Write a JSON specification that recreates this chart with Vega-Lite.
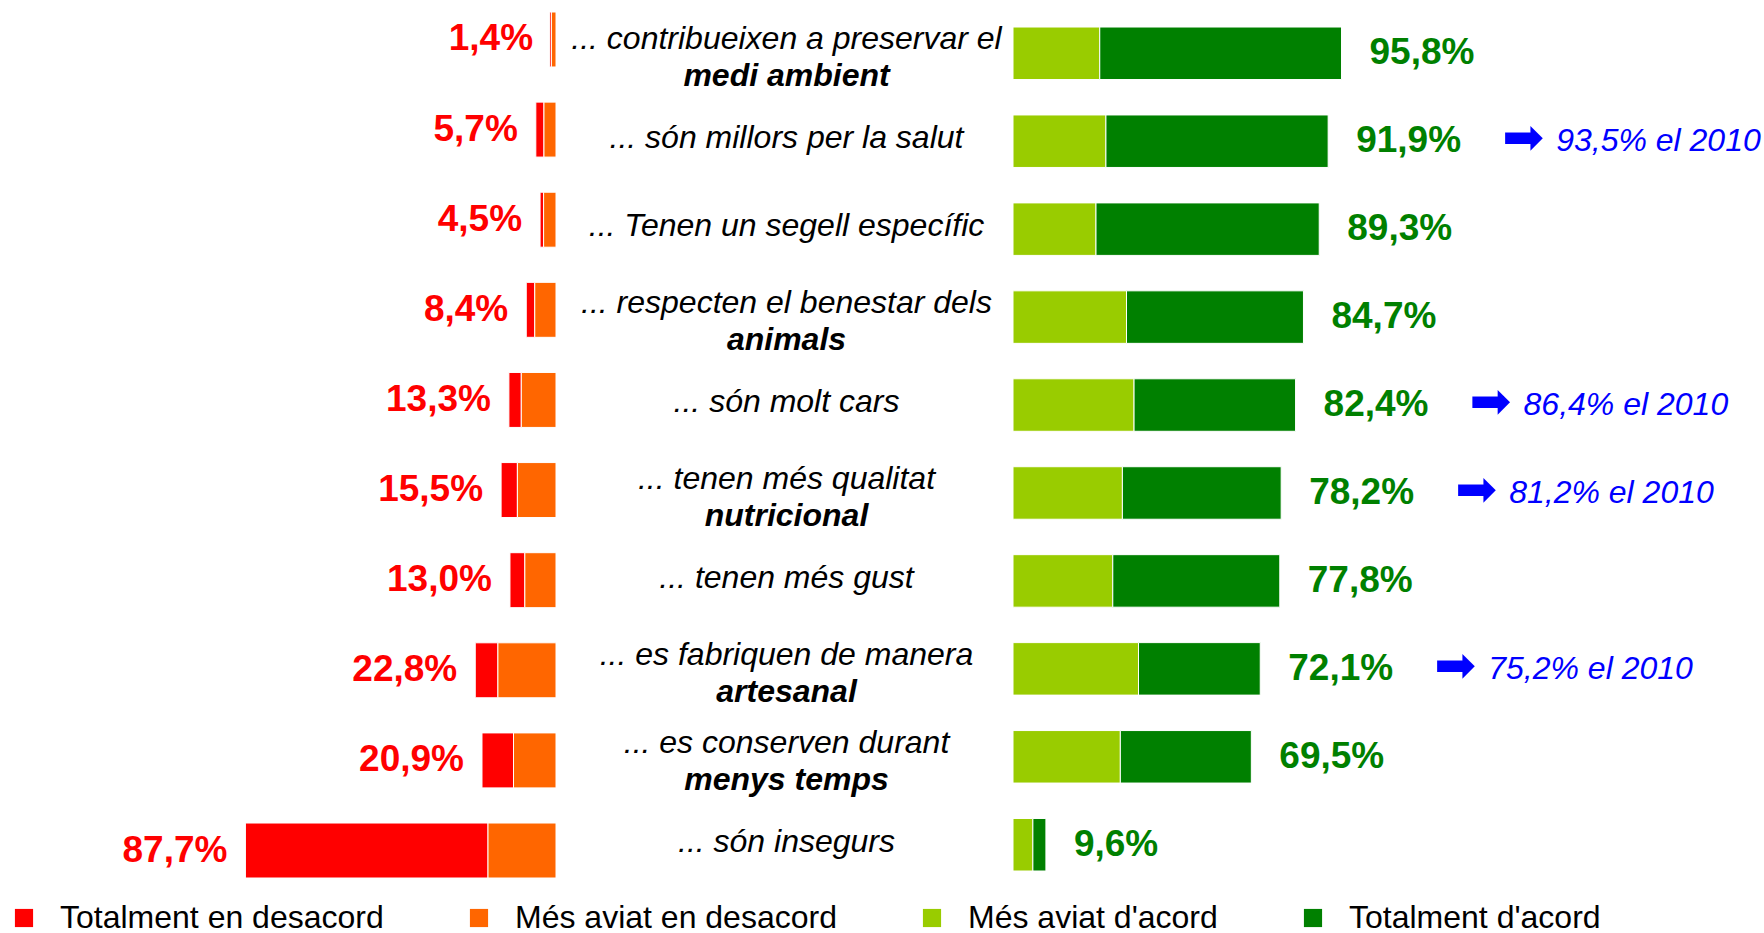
{
  "$schema": "https://vega.github.io/schema/vega-lite/v6.json",
  "padding": 0,
  "background": "white",
  "spacing": 0,
  "bounds": "flush",
  "datasets": {
    "disagree": [
      {"item": "medi ambient", "cat": "Totalment en desacord", "ord": 2, "value": 0.5},
      {"item": "medi ambient", "cat": "Més aviat en desacord", "ord": 1, "value": 1.3},
      {"item": "salut", "cat": "Totalment en desacord", "ord": 2, "value": 2.3},
      {"item": "salut", "cat": "Més aviat en desacord", "ord": 1, "value": 3.4},
      {"item": "segell específic", "cat": "Totalment en desacord", "ord": 2, "value": 1.0},
      {"item": "segell específic", "cat": "Més aviat en desacord", "ord": 1, "value": 3.5},
      {"item": "benestar dels animals", "cat": "Totalment en desacord", "ord": 2, "value": 2.4},
      {"item": "benestar dels animals", "cat": "Més aviat en desacord", "ord": 1, "value": 6.0},
      {"item": "molt cars", "cat": "Totalment en desacord", "ord": 2, "value": 3.5},
      {"item": "molt cars", "cat": "Més aviat en desacord", "ord": 1, "value": 9.8},
      {"item": "qualitat nutricional", "cat": "Totalment en desacord", "ord": 2, "value": 4.6},
      {"item": "qualitat nutricional", "cat": "Més aviat en desacord", "ord": 1, "value": 10.9},
      {"item": "més gust", "cat": "Totalment en desacord", "ord": 2, "value": 4.2},
      {"item": "més gust", "cat": "Més aviat en desacord", "ord": 1, "value": 8.8},
      {"item": "artesanal", "cat": "Totalment en desacord", "ord": 2, "value": 6.4},
      {"item": "artesanal", "cat": "Més aviat en desacord", "ord": 1, "value": 16.4},
      {"item": "menys temps", "cat": "Totalment en desacord", "ord": 2, "value": 8.9},
      {"item": "menys temps", "cat": "Més aviat en desacord", "ord": 1, "value": 12.0},
      {"item": "insegurs", "cat": "Totalment en desacord", "ord": 2, "value": 68.5},
      {"item": "insegurs", "cat": "Més aviat en desacord", "ord": 1, "value": 19.2}
    ],
    "agree": [
      {"item": "medi ambient", "cat": "Més aviat d'acord", "ord": 1, "value": 25.3},
      {"item": "medi ambient", "cat": "Totalment d'acord", "ord": 2, "value": 70.5},
      {"item": "salut", "cat": "Més aviat d'acord", "ord": 1, "value": 27.1},
      {"item": "salut", "cat": "Totalment d'acord", "ord": 2, "value": 64.8},
      {"item": "segell específic", "cat": "Més aviat d'acord", "ord": 1, "value": 24.2},
      {"item": "segell específic", "cat": "Totalment d'acord", "ord": 2, "value": 65.1},
      {"item": "benestar dels animals", "cat": "Més aviat d'acord", "ord": 1, "value": 33.1},
      {"item": "benestar dels animals", "cat": "Totalment d'acord", "ord": 2, "value": 51.6},
      {"item": "molt cars", "cat": "Més aviat d'acord", "ord": 1, "value": 35.3},
      {"item": "molt cars", "cat": "Totalment d'acord", "ord": 2, "value": 47.1},
      {"item": "qualitat nutricional", "cat": "Més aviat d'acord", "ord": 1, "value": 31.9},
      {"item": "qualitat nutricional", "cat": "Totalment d'acord", "ord": 2, "value": 46.3},
      {"item": "més gust", "cat": "Més aviat d'acord", "ord": 1, "value": 29.1},
      {"item": "més gust", "cat": "Totalment d'acord", "ord": 2, "value": 48.7},
      {"item": "artesanal", "cat": "Més aviat d'acord", "ord": 1, "value": 36.6},
      {"item": "artesanal", "cat": "Totalment d'acord", "ord": 2, "value": 35.5},
      {"item": "menys temps", "cat": "Més aviat d'acord", "ord": 1, "value": 31.3},
      {"item": "menys temps", "cat": "Totalment d'acord", "ord": 2, "value": 38.2},
      {"item": "insegurs", "cat": "Més aviat d'acord", "ord": 1, "value": 5.8},
      {"item": "insegurs", "cat": "Totalment d'acord", "ord": 2, "value": 3.8}
    ],
    "totals": [
      {"item": "medi ambient", "dis": 1.4, "dis_label": "1,4%", "agr": 95.8, "agr_label": "95,8%", "l1": "... contribueixen a preservar el", "l2": "medi ambient"},
      {"item": "salut", "dis": 5.7, "dis_label": "5,7%", "agr": 91.9, "agr_label": "91,9%", "l1": "... són millors per la salut", "l2": ""},
      {"item": "segell específic", "dis": 4.5, "dis_label": "4,5%", "agr": 89.3, "agr_label": "89,3%", "l1": "... Tenen un segell específic", "l2": ""},
      {"item": "benestar dels animals", "dis": 8.4, "dis_label": "8,4%", "agr": 84.7, "agr_label": "84,7%", "l1": "... respecten el benestar dels", "l2": "animals"},
      {"item": "molt cars", "dis": 13.3, "dis_label": "13,3%", "agr": 82.4, "agr_label": "82,4%", "l1": "... són molt cars", "l2": ""},
      {"item": "qualitat nutricional", "dis": 15.5, "dis_label": "15,5%", "agr": 78.2, "agr_label": "78,2%", "l1": "... tenen més qualitat", "l2": "nutricional"},
      {"item": "més gust", "dis": 13.0, "dis_label": "13,0%", "agr": 77.8, "agr_label": "77,8%", "l1": "... tenen més gust", "l2": ""},
      {"item": "artesanal", "dis": 22.8, "dis_label": "22,8%", "agr": 72.1, "agr_label": "72,1%", "l1": "... es fabriquen de manera", "l2": "artesanal"},
      {"item": "menys temps", "dis": 20.9, "dis_label": "20,9%", "agr": 69.5, "agr_label": "69,5%", "l1": "... es conserven durant", "l2": "menys temps"},
      {"item": "insegurs", "dis": 87.7, "dis_label": "87,7%", "agr": 9.6, "agr_label": "9,6%", "l1": "... són insegurs", "l2": ""}
    ],
    "notes": [
      {"item": "salut", "agr": 91.9, "note": "93,5% el 2010"},
      {"item": "molt cars", "agr": 82.4, "note": "86,4% el 2010"},
      {"item": "qualitat nutricional", "agr": 78.2, "note": "81,2% el 2010"},
      {"item": "artesanal", "agr": 72.1, "note": "75,2% el 2010"}
    ]
  },
  "resolve": {"scale": {"color": "shared"}, "legend": {"color": "shared"}},
  "hconcat": [
    {
      "width": 556,
      "height": 878,
      "layer": [
        {
          "data": {"name": "disagree"},
          "mark": {"type": "bar", "stroke": "white", "strokeWidth": 1},
          "encoding": {
            "y": {"field": "item", "type": "nominal", "axis": null,
                  "scale": {"type": "band", "domain": ["medi ambient", "salut", "segell específic", "benestar dels animals", "molt cars", "qualitat nutricional", "més gust", "artesanal", "menys temps", "insegurs"], "paddingInner": 0.39, "paddingOuter": 0.0666, "align": 1, "round": false}},
            "x": {"field": "value", "type": "quantitative", "stack": "zero", "axis": null,
                  "scale": {"domain": [0, 157], "reverse": true, "nice": false}},
            "color": {"field": "cat", "type": "nominal",
                      "scale": {"domain": ["Totalment en desacord", "Més aviat en desacord", "Més aviat d'acord", "Totalment d'acord"], "range": ["#FF0000", "#FF6600", "#99CC00", "#008000"]},
                      "legend": {"title": null, "orient": "bottom", "direction": "horizontal", "symbolType": "square", "symbolSize": 330, "symbolStrokeWidth": 0, "labelFontSize": 32, "labelFont": "Liberation Sans", "labelColor": "#000000", "labelOffset": 20, "columnPadding": 79, "padding": 8, "offset": 15, "labelLimit": 600}},
            "order": {"field": "ord", "type": "quantitative"}
          }
        },
        {
          "data": {"name": "totals"},
          "mark": {"type": "text", "align": "right", "baseline": "middle", "dx": -18, "fontSize": 37, "fontWeight": "bold", "font": "Liberation Sans", "color": "#FF0000"},
          "encoding": {
            "y": {"field": "item", "type": "nominal", "axis": null},
            "x": {"field": "dis", "type": "quantitative"},
            "text": {"field": "dis_label"}
          }
        }
      ]
    },
    {
      "width": 457,
      "height": 871,
      "data": {"name": "totals"},
      "layer": [
        {
          "transform": [{"filter": "datum.l2 === ''"}],
          "mark": {"type": "text", "align": "center", "baseline": "middle", "dx": 2, "dy": -3, "fontSize": 32, "fontStyle": "italic", "font": "Liberation Sans", "color": "#000000"},
          "encoding": {
            "y": {"field": "item", "type": "nominal", "axis": null,
                  "scale": {"type": "band", "domain": ["medi ambient", "salut", "segell específic", "benestar dels animals", "molt cars", "qualitat nutricional", "més gust", "artesanal", "menys temps", "insegurs"], "paddingInner": 0.403, "paddingOuter": 0.1536, "align": 1, "round": false}},
            "text": {"field": "l1"}
          }
        },
        {
          "transform": [{"filter": "datum.l2 !== ''"}],
          "mark": {"type": "text", "align": "center", "baseline": "middle", "dx": 2, "dy": -14, "fontSize": 32, "fontStyle": "italic", "font": "Liberation Sans", "color": "#000000"},
          "encoding": {
            "y": {"field": "item", "type": "nominal", "axis": null},
            "text": {"field": "l1"}
          }
        },
        {
          "transform": [{"filter": "datum.l2 !== ''"}],
          "mark": {"type": "text", "align": "center", "baseline": "middle", "dx": 2, "dy": 23, "fontSize": 32, "fontStyle": "italic", "fontWeight": "bold", "font": "Liberation Sans", "color": "#000000"},
          "encoding": {
            "y": {"field": "item", "type": "nominal", "axis": null},
            "text": {"field": "l2"}
          }
        }
      ]
    },
    {
      "width": 751,
      "height": 871,
      "layer": [
        {
          "data": {"name": "agree"},
          "mark": {"type": "bar", "stroke": "white", "strokeWidth": 1},
          "encoding": {
            "y": {"field": "item", "type": "nominal", "axis": null,
                  "scale": {"type": "band", "domain": ["medi ambient", "salut", "segell específic", "benestar dels animals", "molt cars", "qualitat nutricional", "més gust", "artesanal", "menys temps", "insegurs"], "paddingInner": 0.403, "paddingOuter": 0.1536, "align": 1, "round": false}},
            "x": {"field": "value", "type": "quantitative", "stack": "zero", "axis": null,
                  "scale": {"domain": [0, 219], "nice": false}},
            "color": {"field": "cat", "type": "nominal"},
            "order": {"field": "ord", "type": "quantitative"}
          }
        },
        {
          "data": {"name": "totals"},
          "mark": {"type": "text", "align": "left", "baseline": "middle", "dx": 28, "fontSize": 37, "fontWeight": "bold", "font": "Liberation Sans", "color": "#008000"},
          "encoding": {
            "y": {"field": "item", "type": "nominal", "axis": null},
            "x": {"field": "agr", "type": "quantitative"},
            "text": {"field": "agr_label"}
          }
        },
        {
          "data": {"name": "notes"},
          "mark": {"type": "text", "align": "left", "baseline": "middle", "dx": 174, "dy": -2, "fontSize": 50, "font": "DejaVu Sans", "color": "#0000FF"},
          "encoding": {
            "y": {"field": "item", "type": "nominal", "axis": null},
            "x": {"field": "agr", "type": "quantitative"},
            "text": {"value": "➡"}
          }
        },
        {
          "data": {"name": "notes"},
          "mark": {"type": "text", "align": "left", "baseline": "middle", "dx": 228, "fontSize": 32, "fontStyle": "italic", "font": "Liberation Sans", "color": "#0000FF"},
          "encoding": {
            "y": {"field": "item", "type": "nominal", "axis": null},
            "x": {"field": "agr", "type": "quantitative"},
            "text": {"field": "note"}
          }
        }
      ]
    }
  ],
  "config": {
    "view": {"stroke": null},
    "font": "Liberation Sans"
  }
}
